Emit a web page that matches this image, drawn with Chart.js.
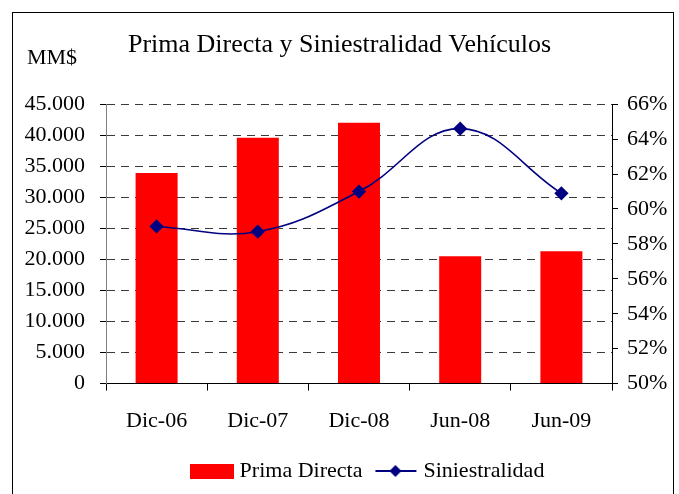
<!DOCTYPE html>
<html>
<head>
<meta charset="utf-8">
<script src="https://cdn.jsdelivr.net/npm/chart.js@4"></script>
<style>
    html, body { margin: 0; padding: 0; background: #ffffff; }
    #wrap { width: 679px; height: 494px; }
</style>
</head>
<body>
<div id="wrap"><canvas id="chart" width="679" height="494"></canvas></div>
<script>
const categories = ["Dic-06", "Dic-07", "Dic-08", "Jun-08", "Jun-09"];
const primaDirecta = [33900, 39600, 42000, 20500, 21300];
const siniestralidad = [59.0, 58.7, 61.0, 64.6, 60.9];
const leftTicks = [0, 5000, 10000, 15000, 20000, 25000, 30000, 35000, 40000, 45000];
const rightTicks = [50, 52, 54, 56, 58, 60, 62, 64, 66];

const FONT = "'Liberation Serif', 'DejaVu Serif', serif";
const RED = "#ff0000";
const NAVY = "#000080";

function formatThousands(v) {
    return String(v).replace(/\B(?=(\d{3})+(?!\d))/g, ".");
}

function legendImage(kind) {
    const c = document.createElement("canvas");
    c.width = 44;
    c.height = 16;
    const ctx = c.getContext("2d");
    if (kind === "bar") {
        ctx.fillStyle = RED;
        ctx.fillRect(0, 1, 44, 15);
    } else {
        ctx.strokeStyle = NAVY;
        ctx.lineWidth = 2;
        ctx.beginPath();
        ctx.moveTo(2, 8);
        ctx.lineTo(43, 8);
        ctx.stroke();
        ctx.fillStyle = NAVY;
        ctx.beginPath();
        ctx.moveTo(22, 2);
        ctx.lineTo(28, 8);
        ctx.lineTo(22, 14);
        ctx.lineTo(16, 8);
        ctx.closePath();
        ctx.fill();
    }
    return c;
}

const frame = {
    id: "frame",
    afterLayout(chart) {
        // the original legend sits a bit right of the canvas centre
        chart.legend.left += 30;
        chart.legend.right += 30;
    },
    beforeDraw(chart) {
        const ctx = chart.ctx;
        ctx.save();
        ctx.fillStyle = "#ffffff";
        ctx.fillRect(0, 0, chart.width, chart.height);
        ctx.strokeStyle = "#000000";
        ctx.lineWidth = 1;
        ctx.strokeRect(12.5, 12.5, 661, 500);
        ctx.restore();
    },
    afterDraw(chart) {
        const ctx = chart.ctx;
        ctx.save();
        ctx.fillStyle = "#000000";
        ctx.font = "22px " + FONT;
        ctx.textBaseline = "middle";
        ctx.fillText("MM$", 27, 58);
        ctx.restore();
    }
};

new Chart(document.getElementById("chart"), {
    data: {
        labels: categories,
        datasets: [
            {
                type: "line",
                label: "Siniestralidad",
                data: siniestralidad,
                yAxisID: "yRight",
                borderColor: NAVY,
                backgroundColor: NAVY,
                borderWidth: 1.6,
                tension: 0.4,
                pointStyle: "rectRot",
                pointRadius: 6,
                pointHoverRadius: 6,
                order: 0
            },
            {
                type: "bar",
                label: "Prima Directa",
                data: primaDirecta,
                yAxisID: "yLeft",
                backgroundColor: RED,
                borderWidth: 0,
                categoryPercentage: 1,
                barPercentage: 0.415,
                order: 1
            }
        ]
    },
    options: {
        responsive: false,
        animation: false,
        layout: { padding: { top: 30, bottom: 2, left: 0, right: 0 } },
        plugins: {
            title: {
                display: true,
                text: "Prima Directa y Siniestralidad Vehículos",
                color: "#000000",
                font: { family: FONT, size: 26, weight: "normal" },
                padding: { top: 0, bottom: 43 }
            },
            legend: {
                position: "bottom",
                labels: {
                    color: "#000000",
                    font: { family: FONT, size: 22 },
                    usePointStyle: true,
                    pointStyleWidth: 34,
                    padding: 16,
                    generateLabels: () => [
                        { text: "Prima Directa", pointStyle: legendImage("bar"), fillStyle: RED, strokeStyle: RED, lineWidth: 0, datasetIndex: 1 },
                        { text: "Siniestralidad", pointStyle: legendImage("line"), fillStyle: NAVY, strokeStyle: NAVY, lineWidth: 0, datasetIndex: 0 }
                    ]
                }
            },
            tooltip: { enabled: false }
        },
        scales: {
            x: {
                offset: true,
                afterFit: scale => { scale.height -= 7; },
                grid: {
                    offset: true,
                    drawOnChartArea: false,
                    tickLength: 7,
                    tickColor: "#000000"
                },
                border: { color: "#000000", width: 1 },
                ticks: {
                    color: "#000000",
                    font: { family: FONT, size: 22 },
                    padding: 17,
                    maxRotation: 0
                }
            },
            yLeft: {
                position: "left",
                min: 0,
                max: 45000,
                afterBuildTicks: scale => { scale.ticks = leftTicks.map(v => ({ value: v })); },
                afterFit: scale => { scale.width = 106; },
                grid: {
                    color: "#3a3a3a",
                    tickBorderDash: [],
                    tickLength: 6,
                    tickColor: "#000000"
                },
                border: { color: "#808080", width: 1, dash: [8, 6] },
                ticks: {
                    color: "#000000",
                    font: { family: FONT, size: 22 },
                    padding: 15,
                    callback: v => formatThousands(v)
                }
            },
            yRight: {
                position: "right",
                min: 50,
                max: 66,
                afterBuildTicks: scale => { scale.ticks = rightTicks.map(v => ({ value: v })); },
                afterFit: scale => { scale.width = 67; },
                grid: {
                    drawOnChartArea: false,
                    tickLength: 6,
                    tickColor: "#000000"
                },
                border: { color: "#000000", width: 1 },
                ticks: {
                    color: "#000000",
                    font: { family: FONT, size: 22 },
                    padding: 9,
                    callback: v => v + "%"
                }
            }
        }
    },
    plugins: [frame]
});
</script>
</body>
</html>
